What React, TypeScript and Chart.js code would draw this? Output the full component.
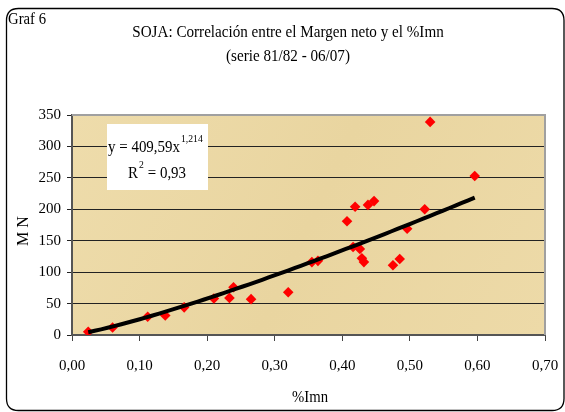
import React, { useEffect, useRef } from "react";
import { Chart, registerables } from "chart.js";

Chart.register(...registerables);

const imn = [0.024, 0.06, 0.112, 0.138, 0.166, 0.21, 0.233, 0.239, 0.265, 0.32, 0.355, 0.364, 0.407, 0.419, 0.416, 0.426, 0.429, 0.432, 0.438, 0.447, 0.475, 0.485, 0.496, 0.522, 0.53, 0.596];
const mn = [5, 12, 29, 31, 44, 58, 59, 76, 57, 68, 116, 118, 181, 204, 140, 137, 122, 116, 207, 213, 111, 121, 169, 200, 339, 253];

const trendA = 409.59;
const trendB = 1.214;
const r2Text = "0,93";
const titleLines = ["SOJA: Correlación entre el Margen neto y el %Imn", "(serie 81/82 - 06/07)"];
const cornerLabel = "Graf 6";
const xTitle = "%Imn";
const yTitle = "M N";

const FONT = "'Liberation Serif', 'Times New Roman', serif";

function squeezedText(ctx: any, text: string, x: number, y: number, sx: number) {
  ctx.save();
  ctx.translate(x, y);
  ctx.scale(sx, 1);
  ctx.fillText(text, 0, 0);
  ctx.restore();
}

export default function App() {
  const ref = useRef<HTMLCanvasElement>(null);
  useEffect(() => {
    const canvas = ref.current!;
    const pts = imn.map((x, i) => ({ x, y: mn[i] }));
    const xMin = Math.min(...imn);
    const xMax = Math.max(...imn);
    const trend: { x: number; y: number }[] = [];
    const n = 60;
    for (let i = 0; i <= n; i++) {
      const x = xMin + ((xMax - xMin) * i) / n;
      trend.push({ x, y: trendA * Math.pow(x, trendB) });
    }
    const deco = {
      id: "deco",
      beforeDraw(chart: any) {
        const ctx = chart.ctx;
        const a = chart.chartArea;
        ctx.save();
        ctx.fillStyle = "#fff";
        ctx.fillRect(0, 0, chart.width, chart.height);
        ctx.strokeStyle = "#000";
        ctx.lineWidth = 1.3;
        const x0 = 6.5, y0 = 8.5, x1 = 564, y1 = 410.5, r = 12;
        ctx.beginPath();
        ctx.moveTo(x0 + r, y0);
        ctx.lineTo(x1 - r, y0);
        ctx.quadraticCurveTo(x1, y0, x1, y0 + r);
        ctx.lineTo(x1, y1 - r);
        ctx.quadraticCurveTo(x1, y1, x1 - r, y1);
        ctx.lineTo(x0 + r, y1);
        ctx.quadraticCurveTo(x0, y1, x0, y1 - r);
        ctx.lineTo(x0, y0 + r);
        ctx.quadraticCurveTo(x0, y0, x0 + r, y0);
        ctx.stroke();
        const g = ctx.createLinearGradient(a.left, a.top, a.right, a.bottom);
        g.addColorStop(0, "#eedcab");
        g.addColorStop(0.5, "#e9d5a0");
        g.addColorStop(1, "#eddaa8");
        ctx.fillStyle = g;
        ctx.fillRect(a.left, a.top, a.right - a.left, a.bottom - a.top);
        ctx.restore();
      },
      beforeDatasetsDraw(chart: any) {
        const ctx = chart.ctx;
        const a = chart.chartArea;
        ctx.save();
        ctx.strokeStyle = "#a0a0a0";
        ctx.lineWidth = 2;
        ctx.beginPath();
        ctx.moveTo(a.left, a.top);
        ctx.lineTo(a.right, a.top);
        ctx.lineTo(a.right, a.bottom);
        ctx.stroke();
        ctx.restore();
      },
      afterDraw(chart: any) {
        const ctx = chart.ctx;
        ctx.save();
        ctx.fillStyle = "#000";
        ctx.textBaseline = "middle";
        ctx.font = `16px ${FONT}`;
        ctx.textAlign = "left";
        squeezedText(ctx, cornerLabel, 8, 20, 0.92);
        ctx.textAlign = "center";
        ctx.font = `17px ${FONT}`;
        squeezedText(ctx, titleLines[0], 288, 33, 0.89);
        squeezedText(ctx, titleLines[1], 288, 57, 0.89);
        ctx.font = `16px ${FONT}`;
        squeezedText(ctx, xTitle, 310, 398, 0.92);
        ctx.save();
        ctx.translate(24, 231);
        ctx.rotate(-Math.PI / 2);
        ctx.fillText(yTitle, 0, 0);
        ctx.restore();
        ctx.fillStyle = "#fff";
        ctx.fillRect(107, 124, 101, 66);
        ctx.fillStyle = "#000";
        ctx.textAlign = "left";
        const sx = 0.88;
        ctx.font = `17px ${FONT}`;
        const eq = `y = ${String(trendA).replace(".", ",")}x`;
        squeezedText(ctx, eq, 108, 148, sx);
        const w = ctx.measureText(eq).width * sx;
        ctx.font = `11px ${FONT}`;
        squeezedText(ctx, String(trendB).replace(".", ","), 108 + w + 1, 139, sx);
        ctx.font = `17px ${FONT}`;
        squeezedText(ctx, "R", 128, 174, sx);
        const wr = ctx.measureText("R").width * sx;
        ctx.font = `11px ${FONT}`;
        squeezedText(ctx, "2", 128 + wr + 1, 165, sx);
        ctx.font = `17px ${FONT}`;
        squeezedText(ctx, ` = ${r2Text}`, 128 + wr + 6, 174, sx);
        ctx.restore();
      },
    };
    const chart = new Chart(canvas, {
      type: "scatter",
      data: {
        datasets: [
          {
            type: "line",
            data: trend,
            borderColor: "#000",
            borderWidth: 4,
            pointRadius: 0,
            fill: false,
            tension: 0,
            order: 0,
          } as any,
          {
            data: pts,
            backgroundColor: "#ff0000",
            borderColor: "#ff0000",
            pointStyle: "rectRot",
            pointRadius: 5.3,
            borderWidth: 0,
            order: 1,
          },
        ],
      },
      options: {
        responsive: false,
        animation: false,
        devicePixelRatio: 1,
        layout: { padding: { left: 0, top: 115, right: 20, bottom: 0 } },
        plugins: { legend: { display: false }, tooltip: { enabled: false }, title: { display: false } },
        scales: {
          x: {
            type: "linear",
            min: 0,
            max: 0.7,
            afterFit: (s: any) => { s.height = 77; s.paddingRight = 0; s.paddingLeft = 0; },
            grid: { drawOnChartArea: false, drawTicks: true, tickLength: 6, color: "#444", lineWidth: 1 },
            border: { display: true, color: "#555", width: 2 },
            ticks: {
              stepSize: 0.1,
              padding: 16,
              color: "#000",
              font: { family: FONT, size: 15 },
              callback: (v: any) => Number(v).toFixed(2).replace(".", ","),
            },
          },
          y: {
            min: 0,
            max: 350,
            afterFit: (s: any) => { s.width = 72; s.paddingTop = 0; s.paddingBottom = 0; },
            grid: { drawOnChartArea: true, drawTicks: true, tickLength: 5, color: "#222", lineWidth: 1 },
            border: { display: true, color: "#555", width: 2 },
            ticks: {
              stepSize: 50,
              padding: 6,
              color: "#000",
              font: { family: FONT, size: 15 },
            },
          },
        },
      },
      plugins: [deco],
    });
    return () => chart.destroy();
  }, []);
  return (
    <div style={{ position: "absolute", left: 0, top: 0, width: 565, height: 412 }}>
      <canvas ref={ref} width={565} height={412} style={{ display: "block" }} />
    </div>
  );
}
